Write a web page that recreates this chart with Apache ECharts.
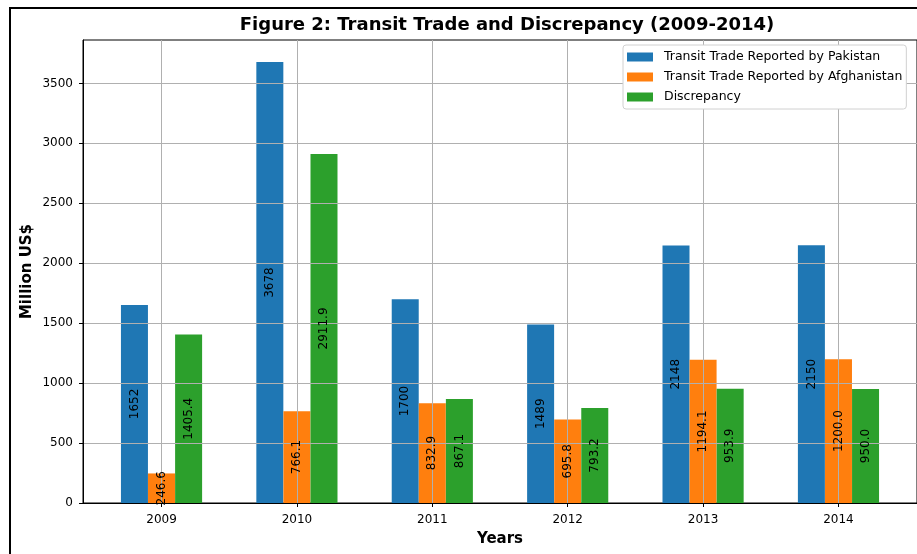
<!DOCTYPE html>
<html>
<head>
<meta charset="utf-8">
<title>Transit Trade and Discrepancy</title>
<script src="https://cdn.jsdelivr.net/npm/echarts@6/dist/echarts.min.js"></script>
<style>
  html, body { margin: 0; padding: 0; background: #fff; }
  #main { width: 917px; height: 554px; }
</style>
</head>
<body>
<div id="main"></div>
<script>
// values
var years = ['2009', '2010', '2011', '2012', '2013', '2014'];
var pakistan = [1652, 3678, 1700, 1489, 2148, 2150];
var afghanistan = [246.6, 766.1, 832.9, 695.8, 1194.1, 1200.0];
var discrepancy = [1405.4, 2911.9, 867.1, 793.2, 953.9, 950.0];
var yTicks = [0, 500, 1000, 1500, 2000, 2500, 3000, 3500];
var names = ['Transit Trade Reported by Pakistan', 'Transit Trade Reported by Afghanistan', 'Discrepancy'];

var font = 'DejaVu Sans';
var chart = echarts.init(document.getElementById('main'));

// bar i sits at year index + offset (matplotlib style grouped bars)
function pts(arr, off) {
  return arr.map(function (v, i) { return [i + off, v]; });
}

function barSeries(name, arr, off, color) {
  return {
    name: name,
    type: 'bar',
    data: pts(arr, off),
    barWidth: 27,
    barGap: '-100%',
    z: 1,
    itemStyle: { color: color }
  };
}

// transparent copy of the bars that only carries the value labels, so text sits above grid lines
function labelSeries(name, arr, off, digits) {
  return {
    name: name + ' label',
    type: 'bar',
    data: pts(arr, off),
    barWidth: 27,
    barGap: '-100%',
    z: 5,
    silent: true,
    itemStyle: { color: 'rgba(0,0,0,0)' },
    label: {
      show: true,
      position: 'inside',
      rotate: 90,
      color: '#000',
      fontFamily: font,
      fontSize: 12,
      formatter: function (p) { return p.value[1].toFixed(digits); }
    }
  };
}

var option = {
  animation: false,
  textStyle: { fontFamily: font },
  title: {
    text: 'Figure 2: Transit Trade and Discrepancy (2009-2014)',
    left: 502,
    top: 11,
    textAlign: 'center',
    textStyle: { fontFamily: font, fontWeight: 'bold', fontSize: 18, color: '#000' }
  },
  legend: {
    data: names,
    orient: 'vertical',
    left: 623,
    top: 45,
    itemWidth: 26,
    itemHeight: 9,
    itemGap: 6,
    icon: 'rect',
    padding: [5, 4, 5, 4],
    backgroundColor: '#fff',
    borderColor: '#d0d0d0',
    borderWidth: 1,
    borderRadius: 3,
    textStyle: { fontFamily: font, fontSize: 12.5, lineHeight: 14, color: '#000', padding: [0, 0, 0, 6] }
  },
  grid: {
    left: 83,
    top: 40,
    width: 838,
    bottom: 51,
    show: true,
    borderColor: '#000',
    borderWidth: 1,
    backgroundColor: 'transparent'
  },
  xAxis: {
    type: 'value',
    min: -0.58,
    max: 5.58,
    z: 3,
    name: 'Years',
    nameLocation: 'middle',
    nameGap: 29,
    nameTextStyle: { fontFamily: font, fontWeight: 'bold', fontSize: 15, color: '#000' },
    axisLine: { show: true, onZero: false, lineStyle: { color: '#000', width: 1 } },
    axisTick: { show: true, length: 4, customValues: [0, 1, 2, 3, 4, 5], lineStyle: { color: '#000' } },
    axisLabel: {
      customValues: [0, 1, 2, 3, 4, 5],
      color: '#000', fontFamily: font, fontSize: 12, margin: 11,
      formatter: function (v) { return years[Math.round(v)]; }
    },
    splitLine: { show: true, lineStyle: { color: '#b0b0b0', width: 1 } }
  },
  yAxis: {
    type: 'value',
    min: 0,
    max: 3862,
    z: 3,
    name: 'Million US$',
    nameLocation: 'middle',
    nameRotate: 90,
    nameGap: 48,
    nameMoveOverlap: false,
    nameTextStyle: { fontFamily: font, fontWeight: 'bold', fontSize: 15, color: '#000' },
    axisLine: { show: true, onZero: false, lineStyle: { color: '#000', width: 1 } },
    axisTick: { show: true, length: 4, customValues: yTicks, lineStyle: { color: '#000' } },
    axisLabel: {
      customValues: yTicks,
      color: '#000', fontFamily: font, fontSize: 12, margin: 10,
      formatter: function (v) { return String(v); }
    },
    splitLine: { show: true, lineStyle: { color: '#b0b0b0', width: 1 } }
  },
  graphic: [{
    type: 'rect',
    silent: true,
    shape: { x: 10, y: 8, width: 1000, height: 1000 },
    style: { fill: 'none', stroke: '#000', lineWidth: 2 },
    z: 10
  }],
  series: [
    barSeries(names[0], pakistan, -0.2, '#1f77b4'),
    barSeries(names[1], afghanistan, 0, '#ff7f0e'),
    barSeries(names[2], discrepancy, 0.2, '#2ca02c'),
    labelSeries(names[0], pakistan, -0.2, 0),
    labelSeries(names[1], afghanistan, 0, 1),
    labelSeries(names[2], discrepancy, 0.2, 1)
  ]
};

chart.setOption(option);
</script>
</body>
</html>
